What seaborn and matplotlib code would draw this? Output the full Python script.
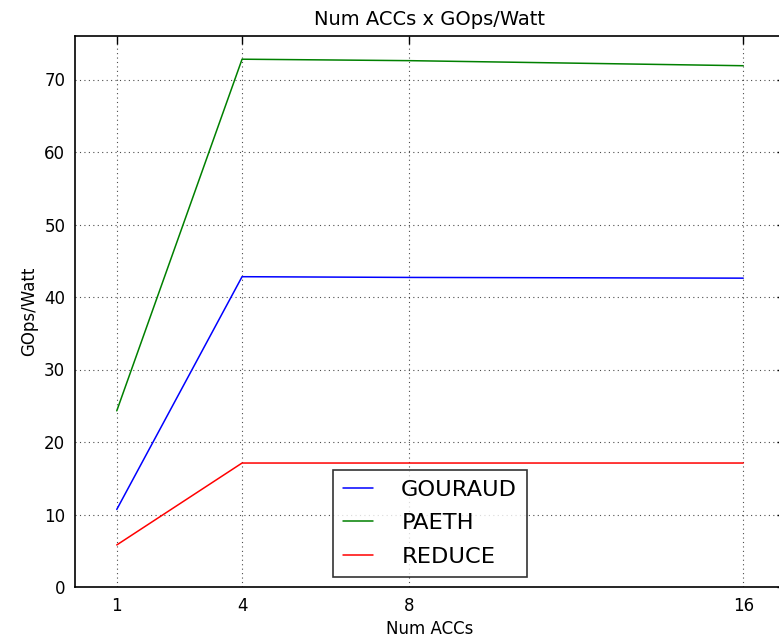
import matplotlib
matplotlib.use("Agg")
import matplotlib.pyplot as plt
import seaborn as sns
import pandas as pd

num_accs = [1, 4, 8, 16]
gouraud = [10.7, 42.8, 42.7, 42.6]
paeth = [24.3, 72.8, 72.6, 71.9]
reduce_ = [5.8, 17.1, 17.1, 17.1]
series_names = ["GOURAUD", "PAETH", "REDUCE"]
x_ticks = [1, 4, 8, 16]

rows = []
for name, vals in zip(series_names, [gouraud, paeth, reduce_]):
    for x, v in zip(num_accs, vals):
        rows.append({"Num ACCs": x, "GOps/Watt": v, "bench": name})
df = pd.DataFrame(rows)

sns.set_style("white")
plt.rcParams["font.family"] = ["DejaVu Sans"]
plt.rcParams["text.color"] = "black"
plt.rcParams["axes.labelcolor"] = "black"

W, H = 779, 644
fig = plt.figure(figsize=(W / 100, H / 100), dpi=100)
ax = fig.add_axes([75 / W, (H - 587) / H, 710 / W, 551 / H])

palette = {"GOURAUD": (0, 0, 1), "PAETH": (0, 0.5, 0), "REDUCE": (1, 0, 0)}
sns.lineplot(data=df, x="Num ACCs", y="GOps/Watt", hue="bench", palette=palette,
             ax=ax, linewidth=1.1, legend=True)

ax.set_xlim(0, 17)
ax.set_ylim(0, 76)
ax.set_xticks(x_ticks)
ax.set_xticklabels([str(t) for t in x_ticks])
ax.set_yticks(range(0, 80, 10))
ax.grid(True, linestyle=(0, (1, 3)), color="black", linewidth=0.8, alpha=0.7)
for s in ax.spines.values():
    s.set_color("black")
    s.set_linewidth(1.2)
ax.tick_params(direction="in", length=6, width=1, top=True, right=True,
               labelsize=12, colors="black", pad=7)
ax.set_title("Num ACCs x GOps/Watt", fontsize=14, pad=8, color="black")
ax.set_xlabel("Num ACCs", fontsize=12, color="black")
ax.set_ylabel("GOps/Watt", fontsize=12, color="black")

leg = ax.legend(loc="lower center", fontsize=16.2, frameon=True, fancybox=False,
                handlelength=1.35, handletextpad=1.25, borderpad=0.45,
                labelspacing=0.6, borderaxespad=0.45, title=None)
leg.get_frame().set_edgecolor("black")
leg.get_frame().set_linewidth(1.2)
for t in leg.get_texts():
    t.set_color("black")

fig.savefig("out.png", dpi=100)
